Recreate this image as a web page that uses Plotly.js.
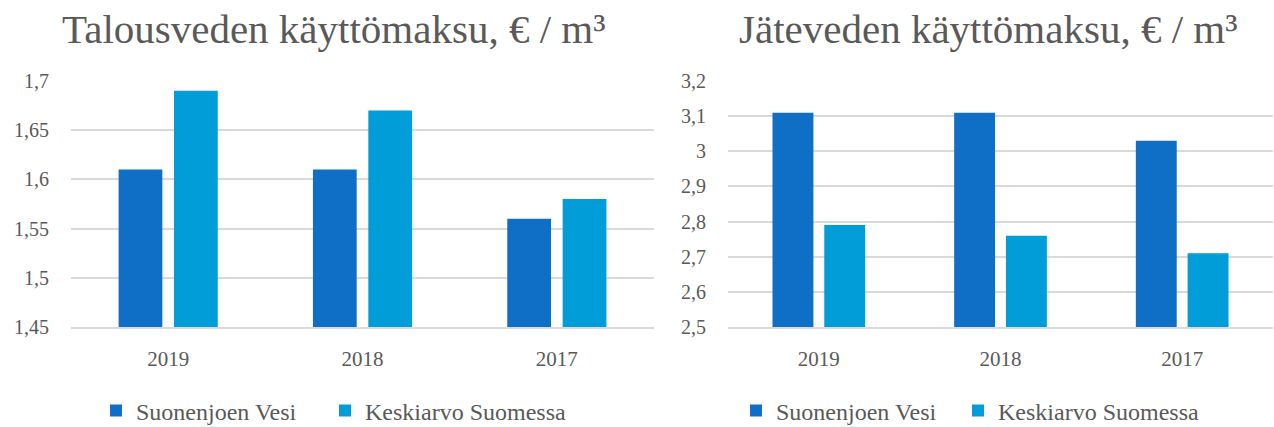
<!DOCTYPE html>
<html>
<head>
<meta charset="utf-8">
<script src="https://cdn.plot.ly/plotly-3.0.1.min.js"></script>
<style>html,body{margin:0;padding:0;background:#fff;}#chart{width:1274px;height:427px;}</style>
</head>
<body>
<div id="chart"></div>
<script>
const years = ["2019", "2018", "2017"];
const seriesNames = ["Suonenjoen Vesi", "Keskiarvo Suomessa"];
const waterSuonenjoki = [1.61, 1.61, 1.56];
const waterAverage = [1.69, 1.67, 1.58];
const wasteSuonenjoki = [3.11, 3.11, 3.03];
const wasteAverage = [2.79, 2.76, 2.71];
const waterTicks = [1.45, 1.5, 1.55, 1.6, 1.65, 1.7];
const waterTickText = ["1,45", "1,5", "1,55", "1,6", "1,65", "1,7"];
const wasteTicks = [2.5, 2.6, 2.7, 2.8, 2.9, 3.0, 3.1, 3.2];
const wasteTickText = ["2,5", "2,6", "2,7", "2,8", "2,9", "3", "3,1", "3,2"];
const titles = ["Talousveden käyttömaksu, € / m³", "Jäteveden käyttömaksu, € / m³"];

const DARK = "#0F6FC6", LIGHT = "#009DD9", TXT = "#595959", GRID = "#D9D9D9";
const FONT = "Liberation Serif, DejaVu Serif, serif";

const traces = [
  {type: "bar", x: years, y: waterSuonenjoki, name: seriesNames[0], marker: {color: DARK}, xaxis: "x", yaxis: "y", legend: "legend", hoverinfo: "none"},
  {type: "bar", x: years, y: waterAverage, name: seriesNames[1], marker: {color: LIGHT}, xaxis: "x", yaxis: "y", legend: "legend2", hoverinfo: "none"},
  {type: "bar", x: years, y: wasteSuonenjoki, name: seriesNames[0], marker: {color: DARK}, xaxis: "x2", yaxis: "y2", legend: "legend3", hoverinfo: "none"},
  {type: "bar", x: years, y: wasteAverage, name: seriesNames[1], marker: {color: LIGHT}, xaxis: "x2", yaxis: "y2", legend: "legend4", hoverinfo: "none"}
];

const W = 1274, H = 427;
const yDom = [1 - 327 / H, 1 - 81 / H];
const tickFont = {family: FONT, size: 20, color: TXT};
const xBase = {type: "category", showgrid: false, showline: true, linecolor: GRID, linewidth: 2, ticks: "", ticklabelstandoff: 12, tickfont: {family: FONT, size: 21, color: TXT}, fixedrange: true};
const yBase = {showgrid: true, gridcolor: GRID, gridwidth: 2, zeroline: false, showline: false, ticks: "", ticklabelstandoff: 21, tickfont: tickFont, fixedrange: true};

const legendBase = {orientation: "h", xanchor: "left", yanchor: "middle", y: 1 - 411 / H, font: {family: FONT, size: 24, color: TXT}, bgcolor: "rgba(0,0,0,0)", itemclick: false, itemdoubleclick: false};
const LOFF = 18;

const layout = {
  width: W, height: H,
  font: {family: FONT, color: TXT},
  margin: {l: 0, r: 0, t: 0, b: 0, autoexpand: false},
  paper_bgcolor: "#fff", plot_bgcolor: "#fff",
  barmode: "group", bargap: 0.43, bargroupgap: 0.21,
  showlegend: true,
  xaxis: Object.assign({}, xBase, {domain: [71 / W, 654 / W], anchor: "y"}),
  yaxis: Object.assign({}, yBase, {domain: yDom, range: [1.45, 1.7], tickvals: waterTicks, ticktext: waterTickText, anchor: "x"}),
  xaxis2: Object.assign({}, xBase, {domain: [728 / W, 1273 / W], anchor: "y2"}),
  yaxis2: Object.assign({}, yBase, {domain: yDom, range: [2.5, 3.2], tickvals: wasteTicks, ticktext: wasteTickText, anchor: "x2"}),
  legend: Object.assign({}, legendBase, {x: (114 - LOFF) / W}),
  legend2: Object.assign({}, legendBase, {x: (343 - LOFF) / W}),
  legend3: Object.assign({}, legendBase, {x: (754 - LOFF) / W}),
  legend4: Object.assign({}, legendBase, {x: (976 - LOFF) / W}),
  annotations: [
    {text: titles[0], xref: "paper", yref: "paper", x: 333 / W, y: 1 - 29 / H, xanchor: "center", yanchor: "middle", showarrow: false, font: {family: FONT, size: 41, color: TXT}},
    {text: titles[1], xref: "paper", yref: "paper", x: 988 / W, y: 1 - 29 / H, xanchor: "center", yanchor: "middle", showarrow: false, font: {family: FONT, size: 41, color: TXT}}
  ]
};

Plotly.newPlot("chart", traces, layout, {displayModeBar: false, staticPlot: true});
</script>
</body>
</html>
